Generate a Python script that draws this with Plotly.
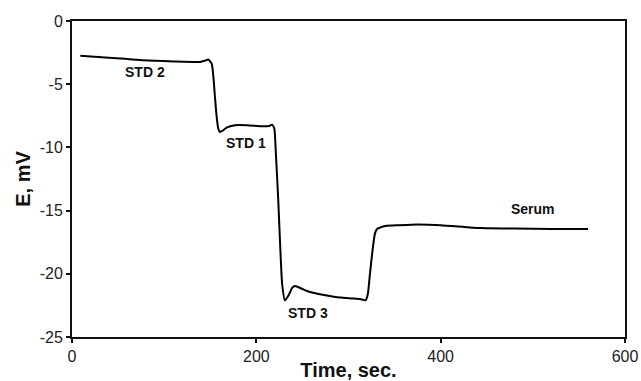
import plotly.graph_objects as go

time_s = [9, 40, 77, 110, 139, 144, 148, 151.6, 153.5, 155.1, 157, 158.7, 160.6, 163, 167.8, 176.8, 190, 207, 214, 217, 219.5, 221, 223.8, 226, 228, 231, 235, 239, 242, 250, 258, 275, 291, 305, 312.5, 318.6, 321, 323.3, 326, 328.7, 331, 334, 340, 355, 375, 400, 443, 480, 520, 560]
e_mv = [-2.75, -2.9, -3.11, -3.2, -3.24, -3.15, -3.05, -3.37, -4.5, -6.0, -7.6, -8.5, -8.78, -8.7, -8.43, -8.25, -8.25, -8.33, -8.3, -8.2, -8.5, -10.2, -14.2, -18.0, -20.8, -22.1, -21.7, -21.1, -20.96, -21.2, -21.44, -21.7, -21.88, -21.95, -22.0, -22.1, -21.6, -19.98, -18.2, -16.8, -16.45, -16.35, -16.22, -16.16, -16.1, -16.15, -16.38, -16.42, -16.45, -16.46]

label_text = ["STD 2", "STD 1", "STD 3", "Serum"]
label_t = [79, 189, 256, 500]
label_e = [-4.05, -9.65, -23.1, -14.84]

x_ticks = [0, 200, 400, 600]
y_ticks = [0, -5, -10, -15, -20, -25]

FONT = "Liberation Sans, Arial, sans-serif"

fig = go.Figure()
fig.add_trace(go.Scatter(x=time_s, y=e_mv, mode="lines",
                         line=dict(color="black", width=2, shape="spline", smoothing=0.5),
                         hoverinfo="skip", showlegend=False))

for txt, tx, ty in zip(label_text, label_t, label_e):
    fig.add_annotation(x=tx, y=ty, text="<b>" + txt + "</b>", showarrow=False,
                       font=dict(family=FONT, size=14, color="#111"))

axis_common = dict(showline=True, linecolor="#111", linewidth=2, mirror=True,
                   ticks="outside", ticklen=4, tickwidth=1.5, tickcolor="#111",
                   showgrid=False, zeroline=False, automargin=False,
                   tickfont=dict(family=FONT, size=16, color="#222"))

fig.update_xaxes(range=[0, 600], tickvals=x_ticks, ticktext=[str(v) for v in x_ticks],
                 title=dict(text="<b>Time, sec.</b>", standoff=2,
                            font=dict(family=FONT, size=20, color="#111")),
                 **axis_common)
fig.update_yaxes(range=[-25, 0], tickvals=y_ticks, ticktext=[str(v) for v in y_ticks],
                 title=dict(text="<b>E, mV</b>", standoff=4,
                            font=dict(family=FONT, size=20, color="#111")),
                 **axis_common)

fig.update_layout(width=641, height=381, margin=dict(l=72, r=16, t=21, b=44),
                  plot_bgcolor="white", paper_bgcolor="white")

fig.write_html("out.html", config={"displayModeBar": False},
               post_script="document.body.style.margin='0px';document.body.style.overflow='hidden';")
